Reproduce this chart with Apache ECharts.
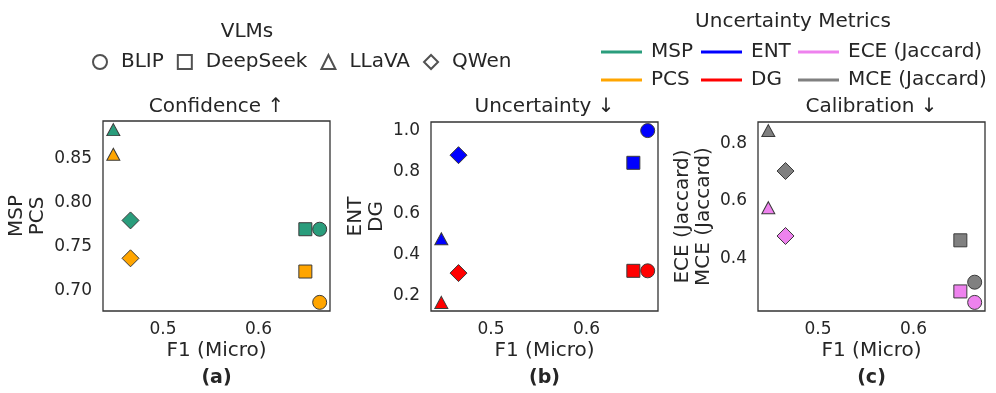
<!DOCTYPE html>
<html>
<head>
<meta charset="utf-8">
<script src="https://cdn.jsdelivr.net/npm/echarts@6/dist/echarts.min.js"></script>
<style>
  html, body { margin: 0; padding: 0; background: #fff; }
  #chart { width: 996px; height: 393px; }
</style>
</head>
<body>
<div id="chart"></div>
<script>
// VLMs and their F1 (Micro)
var models = ['BLIP', 'DeepSeek', 'LLaVA', 'QWen'];
var f1 = [0.664, 0.649, 0.448, 0.466];

// uncertainty metrics per model
var msp = [0.770, 0.770, 0.883, 0.780];
var pcs = [0.687, 0.722, 0.855, 0.737];
var ent = [1.000, 0.844, 0.476, 0.881];
var dg  = [0.321, 0.321, 0.168, 0.310];
var ece = [0.249, 0.287, 0.577, 0.479];
var mce = [0.319, 0.464, 0.844, 0.704];

// tick labels
var xTicks = [0.5, 0.6];
var yTicksA = [0.70, 0.75, 0.80, 0.85];
var yTicksB = [0.2, 0.4, 0.6, 0.8, 1.0];
var yTicksC = [0.4, 0.6, 0.8];

var panelTitles = ['Confidence \u2191', 'Uncertainty \u2193', 'Calibration \u2193'];
var panelLetters = ['(a)', '(b)', '(c)'];

var shapes = ['circle', 'rect', 'triangle', 'diamond'];
var sizes = [14, 13, [13, 12], 17];
var colors = {
  'MSP': '#2a9d7c', 'PCS': '#ffa500',
  'ENT': '#0000ff', 'DG': '#ff0000',
  'ECE (Jaccard)': '#ee82ee', 'MCE (Jaccard)': '#808080'
};

var txt = '#262626';
var font = 'DejaVu Sans';

var grids = [
  { left: 103, top: 121, width: 227, height: 190 },
  { left: 431, top: 122, width: 227, height: 189 },
  { left: 758, top: 122, width: 227, height: 189 }
];

// matplotlib style 5% margins
function lo(v) { return v.min - 0.05 * (v.max - v.min); }
function hi(v) { return v.max + 0.05 * (v.max - v.min); }

var xAxes = [], yAxes = [];
var yTickSets = [yTicksA, yTicksB, yTicksC];
var yNames = ['MSP\nPCS', 'ENT\nDG', 'ECE (Jaccard)\nMCE (Jaccard)'];
var yGaps = [55, 44, 44];
var yDigits = [2, 1, 1];

for (var p = 0; p < 3; p++) {
  xAxes.push({
    type: 'value', gridIndex: p, min: lo, max: hi,
    name: 'F1 (Micro)', nameLocation: 'middle', nameGap: 30,
    nameTextStyle: { fontFamily: font, fontSize: 20, color: txt },
    axisLine: { show: false }, axisTick: { show: false }, splitLine: { show: false },
    axisLabel: {
      customValues: xTicks, margin: 10,
      fontFamily: font, fontSize: 17, color: txt,
      formatter: function (v) { return v.toFixed(1); }
    }
  });
  (function (d) {
    yAxes.push({
      type: 'value', gridIndex: p, min: lo, max: hi,
      name: yNames[p], nameLocation: 'middle', nameGap: yGaps[p], nameRotate: 90,
      nameTextStyle: { fontFamily: font, fontSize: 20, lineHeight: 21, color: txt },
      axisLine: { show: false }, axisTick: { show: false }, splitLine: { show: false },
      axisLabel: {
        customValues: yTickSets[p], margin: 11,
        fontFamily: font, fontSize: 17, color: txt,
        formatter: function (v) { return v.toFixed(d); }
      }
    });
  })(yDigits[p]);
}

function makeSeries(name, vals, p) {
  return {
    type: 'scatter', name: name, xAxisIndex: p, yAxisIndex: p,
    itemStyle: { color: colors[name], borderColor: '#3a3a3a', borderWidth: 1, opacity: 1 },
    data: models.map(function (m, i) {
      return { name: m, value: [f1[i], vals[i]], symbol: shapes[i], symbolSize: sizes[i] };
    })
  };
}

var series = [
  makeSeries('MSP', msp, 0), makeSeries('PCS', pcs, 0),
  makeSeries('ENT', ent, 1), makeSeries('DG', dg, 1),
  makeSeries('ECE (Jaccard)', ece, 2), makeSeries('MCE (Jaccard)', mce, 2)
];
// empty series just for the VLM legend
models.forEach(function (m, i) {
  series.push({
    type: 'scatter', name: m, xAxisIndex: 0, yAxisIndex: 0, data: [],
    symbol: shapes[i],
    itemStyle: { color: '#fff', borderColor: '#262626', borderWidth: 1 }
  });
});

var graphics = [];
for (var p = 0; p < 3; p++) {
  var cx = grids[p].left + grids[p].width / 2;
  graphics.push({
    type: 'text', x: cx, y: 107,
    style: { text: panelTitles[p], font: '20px "DejaVu Sans"', fill: txt, textAlign: 'center', textVerticalAlign: 'middle' }
  });
  graphics.push({
    type: 'text', x: cx, y: 378,
    style: { text: panelLetters[p], font: 'bold 19px "DejaVu Sans"', fill: txt, textAlign: 'center', textVerticalAlign: 'middle' }
  });
}
graphics.push({
  type: 'text', x: 247, y: 32,
  style: { text: 'VLMs', font: '20px "DejaVu Sans"', fill: txt, textAlign: 'center', textVerticalAlign: 'middle' }
});
graphics.push({
  type: 'text', x: 793, y: 22,
  style: { text: 'Uncertainty Metrics', font: '20px "DejaVu Sans"', fill: txt, textAlign: 'center', textVerticalAlign: 'middle' }
});

function metricLegend(names, left) {
  return {
    orient: 'vertical', left: left, top: 42, itemGap: 8, padding: 0,
    icon: 'rect', itemWidth: 41, itemHeight: 3,
    itemStyle: { borderWidth: 0 },
    selectedMode: false,
    textStyle: { fontFamily: font, fontSize: 20, color: txt, padding: [0, 0, 0, 4] },
    data: names
  };
}

var chart = echarts.init(document.getElementById('chart'), null, { renderer: 'canvas' });
chart.setOption({
  backgroundColor: '#fff',
  animation: false,
  grid: grids.map(function (g) {
    return { left: g.left, top: g.top, width: g.width, height: g.height, show: true, borderColor: '#333', borderWidth: 1.3, backgroundColor: 'transparent' };
  }),
  xAxis: xAxes,
  yAxis: yAxes,
  legend: [
    {
      orient: 'horizontal', left: 92, top: 52, itemGap: 13, padding: 0,
      itemWidth: 14, itemHeight: 14, selectedMode: false,
      textStyle: { fontFamily: font, fontSize: 20, color: txt, padding: [0, 0, 0, 9] },
      data: models.map(function (m, i) { return { name: m, icon: shapes[i] }; })
    },
    metricLegend(['MSP', 'PCS'], 601),
    metricLegend(['ENT', 'DG'], 701),
    metricLegend(['ECE (Jaccard)', 'MCE (Jaccard)'], 798)
  ],
  graphic: graphics,
  series: series
});
</script>
</body>
</html>
